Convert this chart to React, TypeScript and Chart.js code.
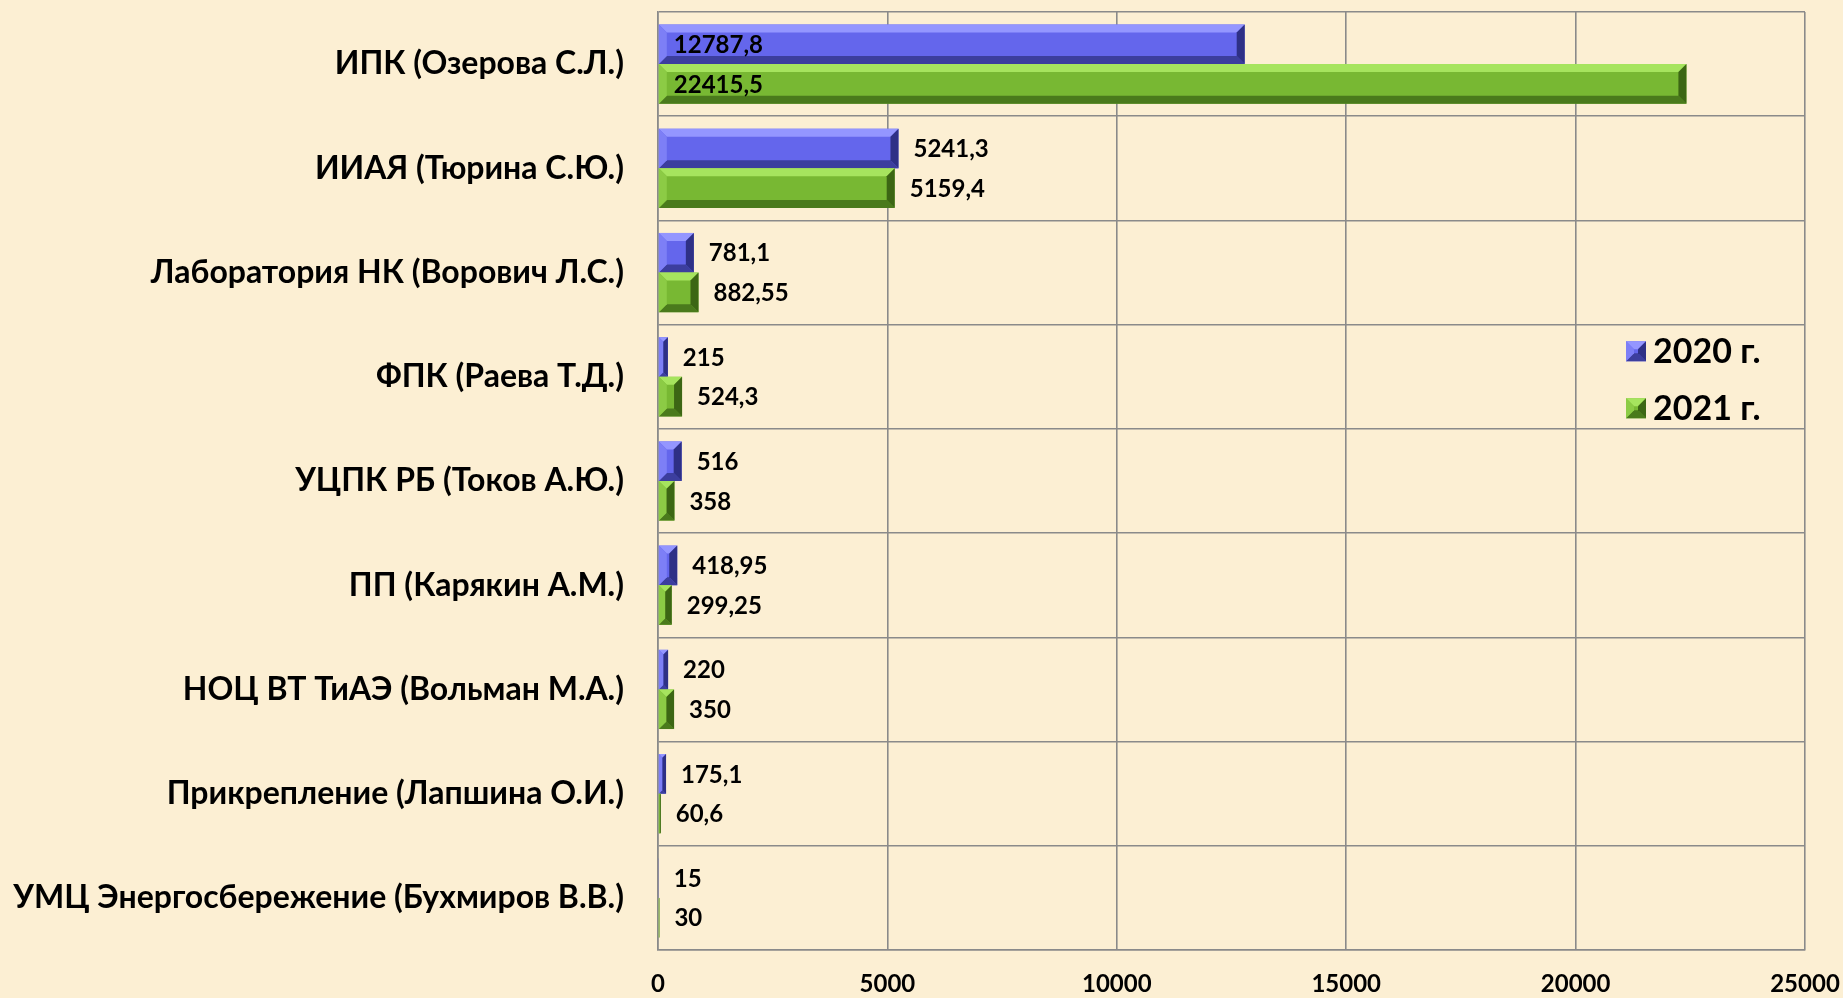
import React, { useEffect, useRef } from "react";
import { Chart, registerables } from "chart.js";

Chart.register(...registerables);

const categories = [
  "ИПК (Озерова С.Л.)",
  "ИИАЯ (Тюрина С.Ю.)",
  "Лаборатория НК (Ворович Л.С.)",
  "ФПК (Раева Т.Д.)",
  "УЦПК РБ (Токов А.Ю.)",
  "ПП (Карякин А.М.)",
  "НОЦ ВТ ТиАЭ (Вольман М.А.)",
  "Прикрепление (Лапшина О.И.)",
  "УМЦ Энергосбережение (Бухмиров В.В.)",
];
const values2020 = [12787.8, 5241.3, 781.1, 215, 516, 418.95, 220, 175.1, 15];
const values2021 = [22415.5, 5159.4, 882.55, 524.3, 358, 299.25, 350, 60.6, 30];
const seriesNames = ["2020 г.", "2021 г."];
const xMin = 0;
const xMax = 25000;
const xStep = 5000;

const FONT = "Lato, 'Open Sans', sans-serif";
const palettes = [
  { base: "#6466EC", light: "#9496FF", left: "#7D7FF6", dark: "#3C3E9E", right: "#2E3086" },
  { base: "#78B833", light: "#A6E45E", left: "#8CCB45", dark: "#4A7A1C", right: "#3C6614" },
];

function drawBevelRect(ctx: CanvasRenderingContext2D, l: number, t: number, r: number, bo: number, p: any) {
  const w = r - l;
  const h = bo - t;
  if (w <= 0 || h <= 0) return;
  ctx.fillStyle = p.base;
  ctx.fillRect(l, t, w, h);
  const b = Math.min(8, w / 2, h / 2);
  const poly = (pts: number[][], c: string) => {
    ctx.beginPath();
    ctx.moveTo(pts[0][0], pts[0][1]);
    for (let i = 1; i < pts.length; i++) ctx.lineTo(pts[i][0], pts[i][1]);
    ctx.closePath();
    ctx.fillStyle = c;
    ctx.fill();
  };
  poly([[l, t], [r, t], [r - b, t + b], [l + b, t + b]], p.light);
  poly([[l, bo], [r, bo], [r - b, bo - b], [l + b, bo - b]], p.dark);
  poly([[l, t], [l + b, t + b], [l + b, bo - b], [l, bo]], p.left);
  poly([[r, t], [r - b, t + b], [r - b, bo - b], [r, bo]], p.right);
}

const bevelPlugin = {
  id: "bevelBars",
  afterDatasetsDraw(chart: any) {
    const ctx = chart.ctx;
    ctx.save();
    chart.data.datasets.forEach((ds: any, di: number) => {
      const meta = chart.getDatasetMeta(di);
      meta.data.forEach((el: any, i: number) => {
        const l = Math.min(el.base, el.x);
        const r = Math.max(el.base, el.x);
        const t = el.y - el.height / 2;
        const bo = el.y + el.height / 2;
        drawBevelRect(ctx, l, t, r, bo, palettes[di]);
        const v = ds.data[i];
        const txt = String(v).replace(".", ",");
        const inside = v > (xMax - xMin) / 2;
        ctx.font = `bold 24px ${FONT}`;
        ctx.fillStyle = "#000";
        ctx.textAlign = "left";
        ctx.textBaseline = "middle";
        ctx.fillText(txt, (inside ? l : r) + 15, el.y + 1);
      });
    });
    ctx.restore();
  },
  afterDraw(chart: any) {
    const ctx = chart.ctx;
    const a = chart.chartArea;
    const cy = a.top + (a.height * 3.5) / 9 + 3;
    const x0 = a.right - 179;
    ctx.save();
    seriesNames.forEach((name, i) => {
      const y = cy + (i === 0 ? -28.5 : 28.5);
      drawBevelRect(ctx, x0, y - 10, x0 + 20, y + 10, palettes[i]);
      ctx.font = `bold 34px ${FONT}`;
      ctx.fillStyle = "#000";
      ctx.textAlign = "left";
      ctx.textBaseline = "middle";
      ctx.fillText(name, x0 + 27, y + 1);
    });
    ctx.restore();
  },
};

const noPad = (s: any) => {
  s.paddingTop = 0;
  s.paddingBottom = 0;
  s.paddingLeft = 0;
  s.paddingRight = 0;
};

export default function App() {
  const ref = useRef<HTMLCanvasElement | null>(null);
  useEffect(() => {
    document.body.style.margin = "0";
    const chart = new Chart(ref.current as HTMLCanvasElement, {
      type: "bar",
      data: {
        labels: categories,
        datasets: [
          { label: seriesNames[0], data: values2020, backgroundColor: "rgba(0,0,0,0)", categoryPercentage: 0.76, barPercentage: 1 },
          { label: seriesNames[1], data: values2021, backgroundColor: "rgba(0,0,0,0)", categoryPercentage: 0.76, barPercentage: 1 },
        ],
      },
      options: {
        indexAxis: "y",
        animation: false,
        responsive: false,
        devicePixelRatio: 1,
        layout: { padding: { top: 12, right: 38, left: 0, bottom: 0 } },
        plugins: { legend: { display: false }, tooltip: { enabled: false } },
        scales: {
          x: {
            min: xMin,
            max: xMax,
            ticks: {
              stepSize: xStep,
              color: "#000",
              font: { family: FONT, size: 24, weight: "bold" },
              padding: 20,
              callback: (v: any) => String(v),
            },
            grid: { color: "#8a8a8a", lineWidth: 1.6, drawTicks: false },
            border: { color: "#8a8a8a", width: 1.6 },
            afterFit: (s: any) => { s.height = 48; noPad(s); },
          },
          y: {
            ticks: { color: "#000", font: { family: FONT, size: 32, weight: "bold" }, padding: 34 },
            grid: { color: "#8a8a8a", lineWidth: 1.6, drawTicks: false, offset: true },
            border: { color: "#8a8a8a", width: 1.6 },
            afterFit: (s: any) => { s.width = 658; noPad(s); },
          },
        },
      },
      plugins: [bevelPlugin],
    } as any);
    return () => chart.destroy();
  }, []);
  return (
    <div style={{ position: "fixed", left: 0, top: 0, width: 1843, height: 998, background: "#FCEFD3" }}>
      <canvas ref={ref} width={1843} height={998} style={{ width: 1843, height: 998, display: "block" }} />
    </div>
  );
}
